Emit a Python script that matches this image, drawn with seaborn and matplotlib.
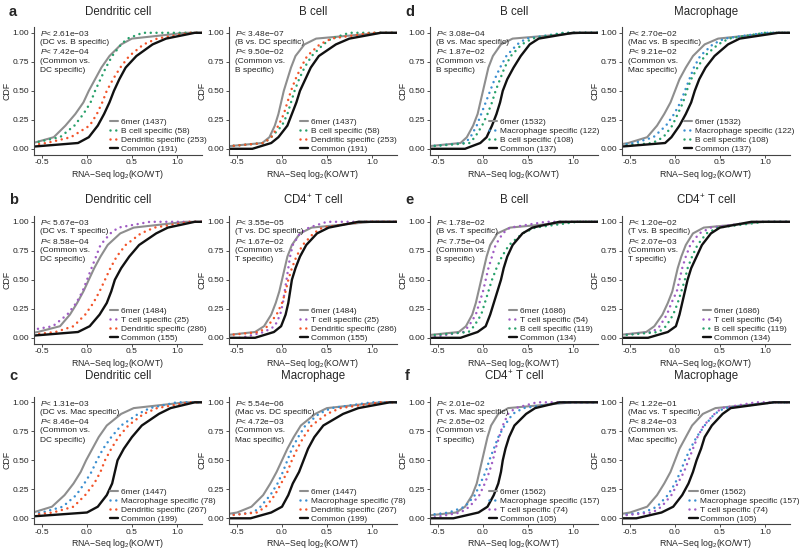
import matplotlib
matplotlib.use("Agg")
import matplotlib.pyplot as plt
import seaborn as sns

LEVELS = [0.0, 0.05, 0.1, 0.2, 0.3, 0.4, 0.5, 0.6, 0.7, 0.8, 0.9, 0.95, 1.0]

# panel a, Dendritic cell
A1 = {
    "6mer": [-0.9, -0.6, -0.37, -0.24, -0.13, -0.04, 0.02, 0.09, 0.16, 0.25, 0.38, 0.5, 1.1],
    "B": [-0.9, -0.6, -0.3, -0.14, -0.04, 0.04, 0.09, 0.15, 0.21, 0.28, 0.38, 0.45, 0.62],
    "DC": [-0.9, -0.45, -0.18, 0.03, 0.11, 0.17, 0.22, 0.29, 0.37, 0.47, 0.63, 0.78, 1.15],
    "Common": [-0.9, -0.1, 0.02, 0.12, 0.19, 0.25, 0.3, 0.36, 0.43, 0.55, 0.73, 0.88, 1.2],
}
# panel a, B cell
A2 = {
    "6mer": [-0.9, -0.22, -0.14, -0.08, -0.04, -0.01, 0.02, 0.06, 0.1, 0.15, 0.25, 0.38, 1.1],
    "B": [-0.9, -0.2, -0.12, 0.0, 0.06, 0.1, 0.14, 0.19, 0.25, 0.33, 0.46, 0.55, 0.75],
    "DC": [-0.9, -0.2, -0.12, -0.04, 0.02, 0.06, 0.1, 0.15, 0.21, 0.28, 0.42, 0.55, 1.0],
    "Common": [-0.33, -0.12, -0.04, 0.06, 0.11, 0.16, 0.2, 0.26, 0.32, 0.41, 0.6, 0.75, 1.1],
}
# panel b, Dendritic cell
B1 = {
    "6mer": [-0.9, -0.55, -0.3, -0.19, -0.11, -0.04, 0.02, 0.08, 0.15, 0.23, 0.37, 0.52, 1.1],
    "T": [-0.9, -0.75, -0.38, -0.22, -0.12, -0.05, 0.0, 0.05, 0.1, 0.15, 0.26, 0.35, 0.7],
    "DC": [-0.9, -0.35, -0.15, -0.02, 0.07, 0.14, 0.2, 0.26, 0.33, 0.43, 0.6, 0.75, 1.15],
    "Common": [-0.9, -0.1, 0.03, 0.14, 0.22, 0.27, 0.31, 0.38, 0.47, 0.58, 0.77, 0.9, 1.2],
}
# panel b, CD4+ T cell
B2 = {
    "6mer": [-0.9, -0.3, -0.2, -0.12, -0.07, -0.03, 0.0, 0.03, 0.06, 0.11, 0.2, 0.33, 1.0],
    "T": [-0.45, -0.2, -0.08, -0.02, 0.01, 0.03, 0.05, 0.07, 0.09, 0.12, 0.2, 0.3, 0.5],
    "DC": [-0.9, -0.25, -0.16, -0.06, 0.0, 0.04, 0.07, 0.11, 0.16, 0.23, 0.35, 0.45, 0.9],
    "Common": [-0.3, -0.09, -0.01, 0.04, 0.07, 0.09, 0.11, 0.15, 0.2, 0.27, 0.39, 0.52, 0.85],
}
# panel c, Dendritic cell
C1 = {
    "6mer": [-0.9, -0.6, -0.39, -0.25, -0.15, -0.07, -0.01, 0.06, 0.13, 0.22, 0.38, 0.52, 1.1],
    "Mac": [-0.9, -0.5, -0.27, -0.12, -0.03, 0.05, 0.11, 0.18, 0.27, 0.38, 0.57, 0.7, 1.0],
    "DC": [-0.9, -0.38, -0.15, -0.02, 0.08, 0.15, 0.2, 0.27, 0.35, 0.46, 0.63, 0.78, 1.15],
    "Common": [-0.9, 0.0, 0.12, 0.22, 0.28, 0.31, 0.34, 0.41, 0.5, 0.61, 0.8, 0.93, 1.2],
}
# panel c, Macrophage
C2 = {
    "6mer": [-0.9, -0.5, -0.34, -0.21, -0.13, -0.06, 0.0, 0.06, 0.13, 0.21, 0.37, 0.5, 1.1],
    "Mac": [-0.9, -0.32, -0.24, -0.13, -0.05, 0.01, 0.06, 0.11, 0.18, 0.26, 0.41, 0.55, 1.0],
    "DC": [-0.9, -0.28, -0.18, -0.08, -0.01, 0.06, 0.11, 0.17, 0.24, 0.33, 0.5, 0.65, 1.1],
    "Common": [-0.35, -0.12, 0.0, 0.07, 0.12, 0.19, 0.24, 0.29, 0.36, 0.46, 0.68, 0.85, 1.2],
}
# panel d, B cell
D1 = {
    "6mer": [-0.9, -0.25, -0.18, -0.11, -0.06, -0.03, 0.0, 0.03, 0.06, 0.11, 0.2, 0.33, 1.1],
    "Mac": [-0.9, -0.2, -0.14, -0.07, -0.02, 0.03, 0.08, 0.13, 0.19, 0.26, 0.38, 0.48, 0.9],
    "B": [-0.9, -0.15, -0.09, -0.01, 0.05, 0.1, 0.14, 0.19, 0.24, 0.31, 0.43, 0.55, 0.9],
    "Common": [-0.2, -0.03, 0.04, 0.1, 0.15, 0.19, 0.22, 0.27, 0.34, 0.42, 0.52, 0.62, 1.0],
}
# panel d, Macrophage
D2 = {
    "6mer": [-0.9, -0.52, -0.31, -0.2, -0.12, -0.05, 0.0, 0.05, 0.12, 0.2, 0.33, 0.48, 1.1],
    "Mac": [-0.9, -0.45, -0.24, -0.1, -0.01, 0.06, 0.11, 0.16, 0.21, 0.28, 0.42, 0.55, 1.0],
    "B": [-0.9, -0.25, -0.13, -0.03, 0.03, 0.09, 0.13, 0.18, 0.25, 0.33, 0.48, 0.6, 1.0],
    "Common": [-0.9, -0.11, -0.04, 0.05, 0.12, 0.18, 0.22, 0.27, 0.34, 0.44, 0.59, 0.72, 1.15],
}
# panel e, B cell
E1 = {
    "6mer": [-0.9, -0.27, -0.19, -0.12, -0.08, -0.05, -0.02, 0.01, 0.04, 0.08, 0.16, 0.3, 1.0],
    "T": [-0.6, -0.22, -0.16, -0.08, -0.04, 0.0, 0.03, 0.06, 0.1, 0.14, 0.22, 0.3, 0.7],
    "B": [-0.9, -0.16, -0.1, -0.02, 0.02, 0.06, 0.1, 0.15, 0.21, 0.29, 0.44, 0.58, 1.05],
    "Common": [-0.25, -0.06, 0.03, 0.08, 0.12, 0.16, 0.2, 0.23, 0.27, 0.33, 0.44, 0.55, 0.85],
}
# panel e, CD4+ T cell
E2 = {
    "6mer": [-0.9, -0.32, -0.23, -0.14, -0.08, -0.03, 0.0, 0.03, 0.07, 0.12, 0.2, 0.32, 1.0],
    "T": [-0.9, -0.25, -0.17, -0.09, -0.04, 0.02, 0.05, 0.08, 0.12, 0.17, 0.27, 0.4, 0.9],
    "B": [-0.9, -0.18, -0.1, -0.02, 0.03, 0.07, 0.11, 0.14, 0.19, 0.25, 0.35, 0.48, 1.0],
    "Common": [-0.3, -0.08, 0.01, 0.05, 0.08, 0.11, 0.14, 0.18, 0.24, 0.3, 0.4, 0.5, 0.85],
}
# panel f, CD4+ T cell
F1 = {
    "6mer": [-0.9, -0.3, -0.2, -0.12, -0.07, -0.04, -0.01, 0.02, 0.05, 0.09, 0.17, 0.28, 1.0],
    "Mac": [-0.9, -0.38, -0.2, -0.09, -0.03, 0.03, 0.07, 0.12, 0.17, 0.24, 0.33, 0.45, 0.9],
    "T": [-0.6, -0.25, -0.15, -0.04, 0.02, 0.07, 0.11, 0.14, 0.18, 0.22, 0.28, 0.36, 0.6],
    "Common": [-0.33, -0.05, 0.05, 0.12, 0.17, 0.2, 0.22, 0.25, 0.29, 0.35, 0.48, 0.58, 0.85],
}
# panel f, Macrophage
F2 = {
    "6mer": [-0.9, -0.5, -0.31, -0.2, -0.12, -0.05, 0.0, 0.05, 0.12, 0.19, 0.31, 0.45, 1.1],
    "Mac": [-0.9, -0.35, -0.2, -0.08, 0.0, 0.06, 0.11, 0.17, 0.24, 0.33, 0.44, 0.55, 1.1],
    "T": [-0.9, -0.25, -0.15, -0.04, 0.03, 0.1, 0.15, 0.2, 0.25, 0.32, 0.44, 0.52, 0.9],
    "Common": [-0.43, -0.15, -0.02, 0.08, 0.15, 0.2, 0.24, 0.29, 0.33, 0.41, 0.53, 0.62, 1.1],
}

LABELS_A = ["6mer (1437)", "B cell specific (58)", "Dendritic specific (253)", "Common (191)"]
LABELS_B = ["6mer (1484)", "T cell specific (25)", "Dendritic specific (286)", "Common (155)"]
LABELS_C = ["6mer (1447)", "Macrophage specific (78)", "Dendritic specific (267)", "Common (199)"]
LABELS_D = ["6mer (1532)", "Macrophage specific (122)", "B cell specific (108)", "Common (137)"]
LABELS_E = ["6mer (1686)", "T cell specific (54)", "B cell specific (119)", "Common (134)"]
LABELS_F = ["6mer (1562)", "Macrophage specific (157)", "T cell specific (74)", "Common (105)"]

PVALS = {
    "a1": ["2.61e\u221203", "(DC vs. B specific)", "7.42e\u221204", "(Common vs.", "DC specific)"],
    "a2": ["3.48e\u221207", "(B vs. DC specific)", "9.50e\u221202", "(Common vs.", "B specific)"],
    "b1": ["5.67e\u221203", "(DC vs. T specific)", "8.58e\u221204", "(Common vs.", "DC specific)"],
    "b2": ["3.55e\u221205", "(T vs. DC specific)", "1.67e\u221202", "(Common vs.", "T specific)"],
    "c1": ["1.31e\u221203", "(DC vs. Mac specific)", "8.46e\u221204", "(Common vs.", "DC specific)"],
    "c2": ["5.54e\u221206", "(Mac vs. DC specific)", "4.72e\u221203", "(Common vs.", "Mac specific)"],
    "d1": ["3.08e\u221204", "(B vs. Mac specific)", "1.87e\u221202", "(Common vs.", "B specific)"],
    "d2": ["2.70e\u221202", "(Mac vs. B specific)", "9.21e\u221202", "(Common vs.", "Mac specific)"],
    "e1": ["1.78e\u221202", "(B vs. T specific)", "7.75e\u221204", "(Common vs.", "B specific)"],
    "e2": ["1.20e\u221202", "(T vs. B specific)", "2.07e\u221203", "(Common vs.", "T specific)"],
    "f1": ["2.01e\u221202", "(T vs. Mac specific)", "2.65e\u221202", "(Common vs.", "T specific)"],
    "f2": ["1.22e\u221201", "(Mac vs. T specific)", "8.24e\u221203", "(Common vs.", "Mac specific)"],
}

X_TICKS = [-0.5, 0.0, 0.5, 1.0]
X_TICKLABELS = ["-0.5", "0.0", "0.5", "1.0"]
Y_TICKS = [0.0, 0.25, 0.5, 0.75, 1.0]
Y_TICKLABELS = ["0.00", "0.25", "0.50", "0.75", "1.00"]

GRAY = "#8e8e8e"
COLORS = {"6mer": GRAY, "B": "#27a06a", "DC": "#f2542a", "T": "#a05cc4",
          "Mac": "#3b8fd0", "Common": "#111111"}

CD4 = "CD4$^{+}$ T cell"
# (key, curves, order of curve keys, labels, title, row, col, legend x)
PANELS = [
    ("a1", A1, ["6mer", "B", "DC", "Common"], LABELS_A, "Dendritic cell", 0, 0, 0.45),
    ("a2", A2, ["6mer", "B", "DC", "Common"], LABELS_A, "B cell", 0, 1, 0.42),
    ("b1", B1, ["6mer", "T", "DC", "Common"], LABELS_B, "Dendritic cell", 1, 0, 0.45),
    ("b2", B2, ["6mer", "T", "DC", "Common"], LABELS_B, CD4, 1, 1, 0.42),
    ("c1", C1, ["6mer", "Mac", "DC", "Common"], LABELS_C, "Dendritic cell", 2, 0, 0.45),
    ("c2", C2, ["6mer", "Mac", "DC", "Common"], LABELS_C, "Macrophage", 2, 1, 0.42),
    ("d1", D1, ["6mer", "Mac", "B", "Common"], LABELS_D, "B cell", 0, 2, 0.35),
    ("d2", D2, ["6mer", "Mac", "B", "Common"], LABELS_D, "Macrophage", 0, 3, 0.37),
    ("e1", E1, ["6mer", "T", "B", "Common"], LABELS_E, "B cell", 1, 2, 0.47),
    ("e2", E2, ["6mer", "T", "B", "Common"], LABELS_E, CD4, 1, 3, 0.48),
    ("f1", F1, ["6mer", "Mac", "T", "Common"], LABELS_F, CD4, 2, 2, 0.35),
    ("f2", F2, ["6mer", "Mac", "T", "Common"], LABELS_F, "Macrophage", 2, 3, 0.40),
]

sns.set_theme(style="ticks")
plt.rcParams["font.family"] = ["Liberation Sans", "DejaVu Sans"]
plt.rcParams["mathtext.fontset"] = "custom"
plt.rcParams["mathtext.rm"] = "Liberation Sans"
plt.rcParams["mathtext.it"] = "Liberation Sans:italic"
plt.rcParams["mathtext.bf"] = "Liberation Sans:bold"

W, H = 800, 549
fig = plt.figure(figsize=(8, 5.49), dpi=100)
COL_LEFT = [34, 229, 430, 622]
ROW_TOP = [27, 216, 396.5]
TITLE_Y = [12, 200, 376]
AX_W, AX_H = 168, 127.6

for key, curves, order, labels, title, row, col, leg_x in PANELS:
    ax = fig.add_axes([COL_LEFT[col] / W, 1 - (ROW_TOP[row] + AX_H) / H, AX_W / W, AX_H / H])
    for name, lab in zip(order, labels):
        if name == "6mer":
            kw = dict(lw=1.5)
        elif name == "Common":
            kw = dict(lw=1.7)
        else:
            kw = dict(lw=1.8, linestyle=(0, (0.01, 2.3)), dash_capstyle="round")
        # pad the ecdf out to both plot edges, like stat_ecdf(pad = TRUE)
        xs = [-1.5] + curves[name] + [1.5]
        ys = [0.0] + LEVELS + [1.0]
        sns.lineplot(x=xs, y=ys, ax=ax, color=COLORS[name], label=lab,
                     estimator=None, sort=False, **kw)
    ax.set_xlim(-0.59, 1.28)
    ax.set_ylim(-0.05, 1.05)
    ax.set_xticks(X_TICKS)
    ax.set_xticklabels(X_TICKLABELS)
    ax.set_yticks(Y_TICKS)
    ax.set_yticklabels(Y_TICKLABELS)
    ax.tick_params(length=2.2, width=0.6, labelsize=6, pad=1.2, colors="#333333")
    ax.tick_params(labelcolor="#222222")
    for side in ["top", "right"]:
        ax.spines[side].set_visible(False)
    for side in ["left", "bottom"]:
        ax.spines[side].set_color("#444444")
        ax.spines[side].set_linewidth(0.8)
    cx = (COL_LEFT[col] + AX_W / 2) / W
    fig.text(cx, 1 - TITLE_Y[row] / H, title, fontsize=8.3, ha="center", va="center")
    ax.set_xlabel("RNA\u2212Seq log$_2$(KO/WT)", fontsize=6.3, labelpad=1)
    ax.set_ylabel("CDF", fontsize=6.3, labelpad=0.5)

    # p-value notes, one text per line so the spacing stays even
    p = PVALS[key]
    lines = ["$P$< " + p[0], p[1], "$P$< " + p[2], p[3], p[4]]
    for i, line in enumerate(lines):
        ax.text(0.036, 1 - (6.5 + 9.25 * i) / AX_H, line, transform=ax.transAxes,
                va="center", ha="left", fontsize=6, color="#222222")

    handles, labs = ax.get_legend_handles_labels()
    ax.legend(handles, labs, loc="lower left", bbox_to_anchor=(leg_x, 0.01),
              frameon=False, fontsize=6, handlelength=1.0, handletextpad=0.35,
              labelspacing=0.15, borderpad=0, borderaxespad=0)

for letter, x, y in [("a", 9, 12), ("b", 9, 200), ("c", 9, 376),
                     ("d", 405, 12), ("e", 405, 200), ("f", 405, 376)]:
    fig.text(x / W, 1 - y / H, letter, fontsize=10.5, fontweight="bold", va="center", ha="left")

fig.savefig("out.png", dpi=100)
